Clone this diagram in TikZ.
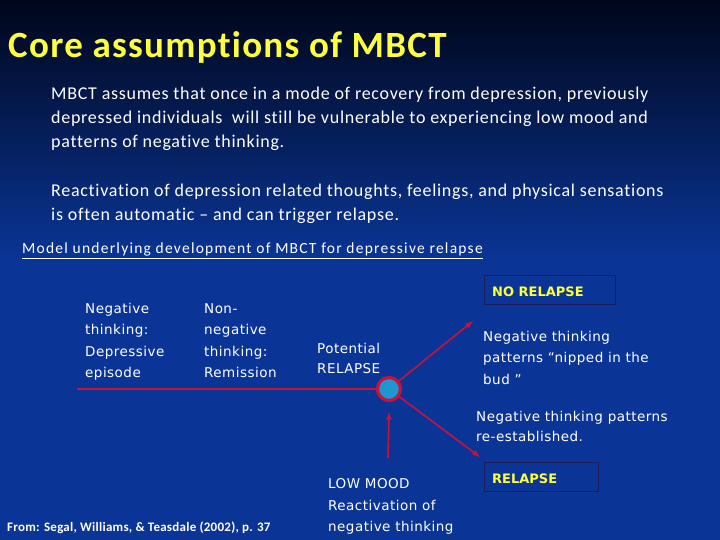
\documentclass[tikz,border=0pt]{standalone}
\usepackage{fontspec}
\setmainfont[Ligatures={TeX,NoCommon}]{Carlito}
\newfontfamily\diagfont[LetterSpace=3.5]{DejaVu Sans}
\usepackage{tikz}
\usetikzlibrary{
  arrows,%
  positioning
}
\definecolor{bgtop}{RGB}{0,6,26}
\definecolor{bgbot}{RGB}{10,53,150}
\definecolor{titleyellow}{RGB}{255,255,60}
\definecolor{linered}{RGB}{200,18,60}
\definecolor{dotblue}{RGB}{30,150,210}
\definecolor{boxline}{RGB}{28,28,90}
\tikzset{>=latex}
% multi-line nodes: the base anchor sits on the last line
\tikzset{
  bodytext/.style={anchor=base west, inner sep=0pt, align=left, text=white,
    font=\addfontfeature{LetterSpace=4}\fontsize{18}{24}\selectfont},
  diagtext/.style={anchor=base west, inner sep=0pt, align=left, text=white,
    font=\diagfont\fontsize{13.5}{21.5}\selectfont},
  outcomebox/.style={draw=boxline, fill=bgbot, thin, anchor=north west,
    inner sep=0pt},
  outcometext/.style={anchor=base west, inner sep=0pt, text=titleyellow,
    font=\diagfont\addfontfeature{LetterSpace=0}\bfseries\fontsize{13}{15}\selectfont},
  redline/.style={draw=linered, line width=1.6pt},
  redarrow/.style={redline, ->}
}

\begin{document}
\begin{tikzpicture}[x=1pt,y=-1pt]
  \useasboundingbox (0,0) rectangle (720,540);
  % background
  \fill[top color=bgtop, bottom color=bgbot] (0,0) rectangle (720,260);
  \fill[bgbot] (0,259.5) rectangle (720,540);

  \node[anchor=base west, inner sep=0pt, text=titleyellow,
    font=\addfontfeature{LetterSpace=3.5}\bfseries\fontsize{37}{40}\selectfont]
    (title) at (8,58) {Core assumptions of MBCT};
  \node[bodytext] (assume) at (51,148)
    {MBCT assumes that once in a mode of recovery from depression, previously\\
     depressed individuals\ \ will still be vulnerable to experiencing low mood and\\
     patterns of negative thinking.};
  \node[bodytext] (react) at (51,220.5)
    {Reactivation of depression related thoughts, feelings, and physical sensations\\
     is often automatic -- and can trigger relapse.};
  \node[anchor=base west, inner sep=0pt, text=white,
    font=\addfontfeature{LetterSpace=8}\fontsize{15.5}{16}\selectfont]
    (model) at (22,254)
    {\underline{Model underlying development of MBCT for depressive relapse}};

  % timeline
  \node[diagtext] (episode) at (85,377.5) {Negative\\thinking:\\Depressive\\episode};
  \node[diagtext] (remission) at (204,377.5) {Non-\\negative\\thinking:\\Remission};
  \node[diagtext, font=\diagfont\fontsize{13.5}{20}\selectfont] (potential)
    at (317,373) {Potential\\RELAPSE};
  \node[circle, draw=linered, line width=3.2pt, fill=dotblue, minimum size=23pt,
    inner sep=0pt] (crux) at (389,389) {};
  \coordinate (start) at (77,389);
  \draw[redline] (start) -- (crux);

  % outcomes
  \node[outcomebox, minimum width=131pt, minimum height=29pt] (nobox) at (484,275) {};
  \node[outcometext] (norelapse) at (492,296) {NO RELAPSE};
  \node[outcomebox, minimum width=114pt, minimum height=29pt] (yesbox) at (484,462) {};
  \node[outcometext] (relapse) at (492,483) {RELAPSE};
  \coordinate (uptip) at (473,321);
  \coordinate (downtip) at (480,457);
  \coordinate (moodfoot) at (388,458);
  \draw[redarrow] (crux) -- (uptip);
  \draw[redarrow] (crux) -- (downtip);
  \draw[redarrow] (moodfoot) -- (crux.south |- 0,412);

  \node[diagtext] (nipped) at (483,384)
    {Negative thinking\\patterns \textquotedblleft nipped in the\\bud \textquotedblright};
  \node[diagtext, font=\diagfont\fontsize{13.5}{20}\selectfont] (reestab)
    at (476,441) {Negative thinking patterns\\re-established.};
  \node[diagtext] (lowmood) at (328,531.5)
    {LOW MOOD\\Reactivation of\\negative thinking};
  \node[anchor=base west, inner sep=0pt, text=white,
    font=\addfontfeature{LetterSpace=2}\bfseries\fontsize{13}{14}\selectfont]
    (source) at (7,531.5) {From: Segal, Williams, \& Teasdale (2002), p. 37};
\end{tikzpicture}
\end{document}
